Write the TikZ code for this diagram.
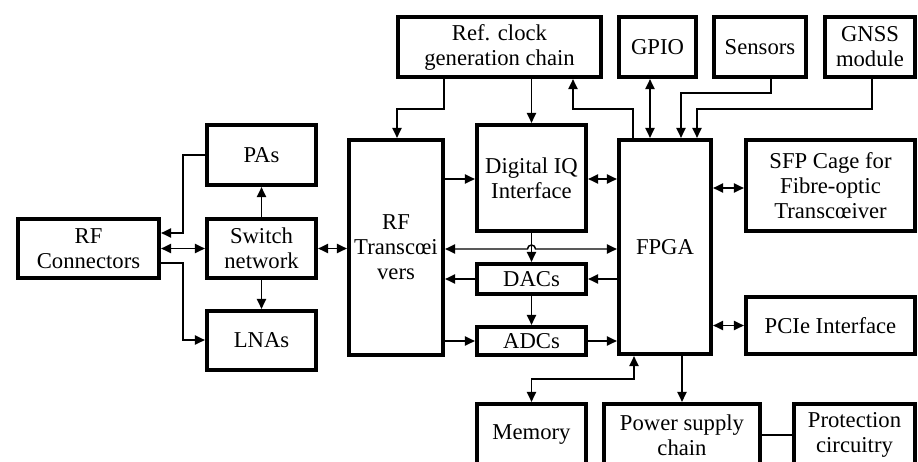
\documentclass[tikz,border=0pt]{standalone}
\usepackage{fontspec}
\setmainfont{Liberation Serif}
\usetikzlibrary{arrows.meta}
\begin{document}
\begin{tikzpicture}[x=0.75pt,y=-0.75pt,
  box/.style={draw, line width=3.2pt, rectangle, align=center, inner sep=0pt,
    font=\fontsize{17}{18.75}\selectfont},
  conn/.style={line width=1.1pt},
  >={Triangle[length=7.5pt,width=7pt]}]
\clip (0,0) rectangle (918,461);
% boxes
\node[box, minimum width=105.75pt, minimum height=44.25pt] (rfc) at (88.5,248.5) {RF\\Connectors};
\node[box, minimum width=81.75pt, minimum height=45pt] (pas) at (261.5,155) {PAs};
\node[box, minimum width=81.75pt, minimum height=44.25pt] (sw) at (261.5,248.5) {Switch\\network};
\node[box, minimum width=81.75pt, minimum height=44.25pt] (lna) at (261.5,340.5) {LNAs};
\node[box, minimum width=70.5pt, minimum height=161.25pt] (rft) at (396,247.5) {RF\\Transcœi\\vers};
\node[box, minimum width=152.25pt, minimum height=45pt] (ref) at (499.5,47) {Ref. clock\\generation chain};
\node[box, minimum width=81.75pt, minimum height=79.5pt] (diq) at (531.5,178) {Digital IQ\\Interface};
\node[box, minimum width=81.75pt, minimum height=22.5pt] (dac) at (531.5,279) {DACs};
\node[box, minimum width=81.75pt, minimum height=21pt] (adc) at (531.5,341) {ADCs};
\node[box, minimum width=69pt, minimum height=160.5pt] (fpga) at (665,247) {FPGA};
\node[box, minimum width=57.75pt, minimum height=45pt] (gpio) at (657.5,47) {GPIO};
\node[box, minimum width=69pt, minimum height=45pt] (sens) at (760,47) {Sensors};
\node[box, minimum width=67.5pt, minimum height=45pt] (gnss) at (870,47) {GNSS\\module};
\node[box, minimum width=126.75pt, minimum height=68.25pt] (sfp) at (830.5,185.5) {SFP Cage for\\Fibre-optic\\Transcœiver};
\node[box, minimum width=126.75pt, minimum height=42.75pt] (pcie) at (830.5,325.5) {PCIe Interface};
\node[box, minimum width=81.75pt, minimum height=46.5pt] (mem) at (531.5,435) {Memory};
\node[box, minimum width=117pt, minimum height=46.5pt] (psu) at (682,435) {Power supply\\chain};
\node[box, minimum width=90.75pt, minimum height=46.5pt] (prot) at (854.5,435) {Protection\\circuitry};
% connectors
\draw[conn,->] (pas.west) -| (183,233) -- (rfc.east |- 0,233);
\draw[conn,<->] (rfc.east) -- (sw.west);
\draw[conn,->] (rfc.east |- 0,263) -| (183,340) -- (lna.west |- 0,340);
\draw[conn,->] (sw.north) -- (pas.south);
\draw[conn,->] (sw.south) -- (lna.north);
\draw[conn,<->] (sw.east) -- (rft.west |- sw.east);
\draw[conn,->] (ref.south -| 444,0) |- (397,109) -- (rft.north -| 397,0);
\draw[conn,->] (ref.south -| diq.north) -- (diq.north);
\draw[conn,->] (fpga.north -| 633,0) |- (573,109) -- (ref.south -| 573,0);
\draw[conn,<->] (gpio.south -| 650,0) -- (fpga.north -| 650,0);
\draw[conn,->] (sens.south -| 771,0) |- (681,93) -- (fpga.north -| 681,0);
\draw[conn,->] (gnss.south -| 872,0) |- (697,109) -- (fpga.north -| 697,0);
\draw[conn,->] (rft.east |- 0,179) -- (diq.west |- 0,179);
\draw[conn,<->] (diq.east |- 0,179) -- (fpga.west |- 0,179);
\draw[conn,<->] (fpga.east |- 0,188) -- (sfp.west |- 0,188);
\draw[conn,<->] (rft.east |- 0,249) -- (527.5,249) arc[start angle=180,end angle=360,radius=4] -- (fpga.west |- 0,249);
\draw[conn,->] (diq.south) -- (dac.north);
\draw[conn,->] (dac.west) -- (rft.east |- dac.west);
\draw[conn,->] (fpga.west |- dac.east) -- (dac.east);
\draw[conn,->] (dac.south) -- (adc.north);
\draw[conn,->] (rft.east |- adc.west) -- (adc.west);
\draw[conn,->] (adc.east) -- (fpga.west |- adc.east);
\draw[conn,<->] (fpga.east |- pcie.west) -- (pcie.west);
\draw[conn,<->] (mem.north) |- (634,379) -- (fpga.south -| 634,0);
\draw[conn,->] (fpga.south -| psu.north) -- (psu.north);
\draw[conn] (psu.east) -- (prot.west);
\end{tikzpicture}
\end{document}
